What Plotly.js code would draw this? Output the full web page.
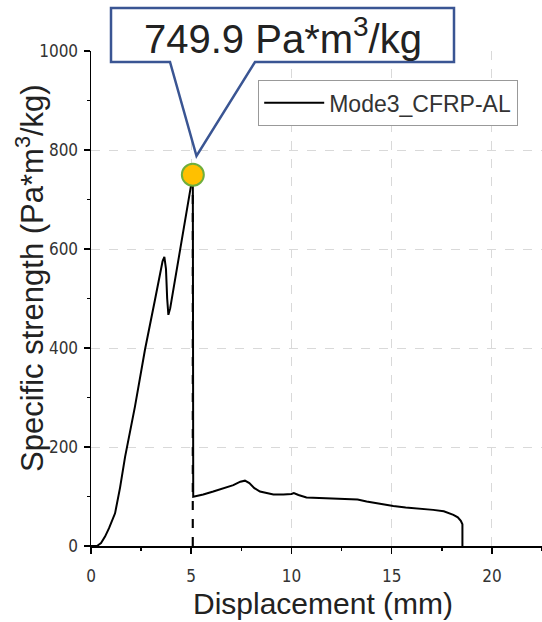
<!DOCTYPE html>
<html>
<head>
<meta charset="utf-8">
<script src="https://cdn.plot.ly/plotly-3.0.1.min.js"></script>
<style>html,body{margin:0;padding:0;background:#fff;}#chart{width:542px;height:622px;}</style>
</head>
<body>
<div id="chart"></div>
<script>
// ---- data ----
const seriesName = "Mode3_CFRP-AL";
const xTitle = "Displacement (mm)";
const yTitle = "Specific strength (Pa*m<sup>3</sup>/kg)";
const displacement = [0, 0.3, 0.5, 0.7, 0.9, 1.05, 1.2, 1.45, 1.7, 2.19, 2.69, 3.19, 3.44, 3.57, 3.66, 3.74, 3.8, 3.86, 3.95, 4.52, 5.08, 5.1, 5.3, 5.6, 6.1, 6.6, 7.1, 7.45, 7.68, 7.9, 8.15, 8.43, 9.1, 9.6, 10.0, 10.12, 10.35, 10.75, 11.5, 12.3, 12.92, 13.3, 13.75, 14.4, 15.08, 15.7, 16.4, 17.07, 17.6, 18.08, 18.3, 18.45, 18.53, 18.53];
const strength =     [0, 0, 6, 19, 36, 50, 66, 118, 180, 281, 396, 497, 551, 575, 584, 560, 500, 467, 480, 618, 749.9, 99.6, 101, 104, 110, 116, 123, 130, 132, 127, 117, 110, 104, 104, 105, 107, 103, 98, 97, 96, 96, 94, 90, 85, 81, 78, 76, 73, 70, 63, 58, 51, 44, 0];
const peakX = 5.08;
const peakY = 749.9;
const xTicks = [0, 5, 10, 15, 20];
const yTicks = [0, 200, 400, 600, 800, 1000];

// ---- layout helpers (pixel -> paper) ----
const L = 91, B = 546, W = 451, H = 495;
const px = v => (v - L) / W;
const py = v => (B - v) / H;

const tickFont = {family: "Liberation Sans Narrow, Arial Narrow, DejaVu Sans Condensed, sans-serif", size: 17, color: "#333"};
const titleFont = {family: "Liberation Sans, Arial, sans-serif", size: 31, color: "#222"};

const traces = [
  {x: [peakX, peakX], y: [0, peakY], mode: "lines", line: {color: "#000", width: 2, dash: "dash"}, showlegend: false, hoverinfo: "skip"},
  {x: displacement, y: strength, mode: "lines", name: seriesName, line: {color: "#000", width: 2}},
  {x: [peakX], y: [peakY], mode: "markers", showlegend: false, cliponaxis: false,
   marker: {size: 22, color: "#FFC000", line: {color: "#6FAE3C", width: 2}}}
];

const layout = {
  width: 542, height: 622,
  margin: {l: L, r: 542 - L - W, t: B - H, b: 622 - B, pad: 0},
  paper_bgcolor: "#fff", plot_bgcolor: "#fff",
  showlegend: true,
  xaxis: {
    range: [0, 22.5], tickvals: xTicks, ticks: "outside", ticklen: 6, tickwidth: 1.5, tickcolor: "#000",
    showline: true, linecolor: "#000", linewidth: 1.5, zeroline: false,
    showgrid: true, gridcolor: "#d9d9d9", griddash: "dash", gridwidth: 1,
    minor: {dtick: 2.5, ticks: "outside", ticklen: 3, tickcolor: "#000", showgrid: false},
    tickfont: tickFont, ticklabelstandoff: 8,
    automargin: false
  },
  yaxis: {
    range: [0, 1000], tickvals: yTicks, ticks: "outside", ticklen: 6, tickwidth: 1.5, tickcolor: "#000",
    showline: true, linecolor: "#000", linewidth: 1.5, zeroline: false,
    showgrid: true, gridcolor: "#d9d9d9", griddash: "dash", gridwidth: 1,
    minor: {dtick: 100, ticks: "outside", ticklen: 3, tickcolor: "#000", showgrid: false},
    tickfont: tickFont, ticklabelstandoff: 2,
    automargin: false
  },
  legend: {
    x: px(258), y: py(80), xanchor: "left", yanchor: "top",
    bgcolor: "#fff", bordercolor: "#999", borderwidth: 1.2,
    font: {family: "Liberation Sans, Arial, sans-serif", size: 23, color: "#333"},
    itemwidth: 60, tracegroupgap: 0
  },
  shapes: [{
    type: "path", xref: "paper", yref: "paper", layer: "above",
    path: `M${px(111)},${py(8)} L${px(454)},${py(8)} L${px(454)},${py(62)} L${px(255)},${py(62)} L${px(196.5)},${py(156)} L${px(170)},${py(62)} L${px(111)},${py(62)} Z`,
    fillcolor: "#fff", line: {color: "#3A5593", width: 2.5}
  }],
  annotations: [
    {xref: "paper", yref: "paper", x: px(323), y: py(36), xanchor: "center", yanchor: "middle",
     showarrow: false, text: peakY.toFixed(1) + " Pa*m<sup>3</sup>/kg",
     font: {family: "Liberation Sans, Arial, sans-serif", size: 40, color: "#222"}, xshift: -40},
    {xref: "paper", yref: "paper", x: px(323), y: py(603), xanchor: "center", yanchor: "middle",
     showarrow: false, text: xTitle, font: {family: "Liberation Sans, Arial, sans-serif", size: 30, color: "#222"}, borderpad: 0},
    {xref: "paper", yref: "paper", x: px(30), y: py(278), xanchor: "center", yanchor: "middle",
     showarrow: false, textangle: -90, text: yTitle, font: titleFont, borderpad: 0}
  ]
};

Plotly.newPlot("chart", traces, layout, {displayModeBar: false, staticPlot: true});
</script>
</body>
</html>
